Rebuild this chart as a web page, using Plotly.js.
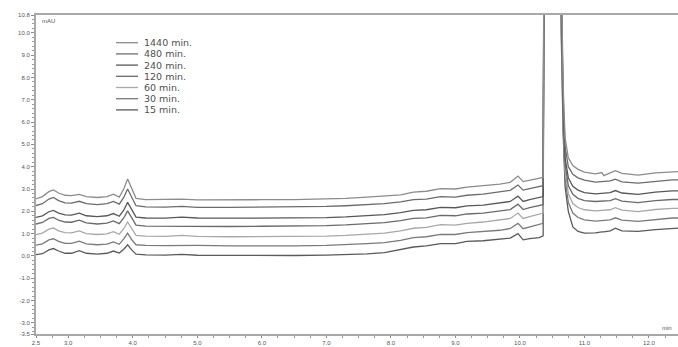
<!DOCTYPE html>
<html>
<head>
<meta charset="utf-8">
<script src="https://cdn.plot.ly/plotly-3.0.1.min.js"></script>
<style>
  html, body { margin: 0; padding: 0; background: #fff; overflow: hidden; }
  #chart { width: 678px; height: 347px; }
</style>
</head>
<body>
<div id="chart"></div>
<script>
// Retention time (min) of each sample point
const times = [
  2.50, 2.60, 2.70, 2.77, 2.85, 2.95, 3.05, 3.17, 3.28, 3.45,
  3.60, 3.70, 3.79, 3.86, 3.92, 3.98, 4.05, 4.20, 4.50, 4.76, 5.00,
  5.50, 6.00, 6.50, 7.00, 7.30, 7.63, 7.90, 8.15, 8.35, 8.55, 8.77, 9.00, 9.18, 9.43,
  9.69, 9.85, 9.97, 10.05, 10.15, 10.30, 10.36,
  10.39, 10.50, 10.60, 10.64, 10.67, 10.70, 10.75, 10.82, 10.90, 11.00,
  11.17, 11.27, 11.30, 11.40, 11.48, 11.58, 11.83, 12.10, 12.36, 12.45
];

// Absorbance (mAU) for each incubation time
const abs1440 = [
  2.56, 2.66, 2.88, 2.96, 2.82, 2.72, 2.70, 2.76, 2.66, 2.62,
  2.66, 2.77, 2.64, 3.00, 3.45, 3.05, 2.58, 2.52, 2.52, 2.55, 2.51,
  2.50, 2.52, 2.52, 2.55, 2.58, 2.64, 2.68, 2.74, 2.86, 2.90, 3.02, 3.00, 3.08, 3.14,
  3.22, 3.30, 3.58, 3.33, 3.40, 3.48, 3.52,
  32, 62, 32, 13, 7.6, 5.3, 4.4, 4.05, 3.88, 3.76,
  3.68, 3.74, 3.60, 3.74, 3.82, 3.70, 3.62, 3.72, 3.78, 3.78
];
const abs480 = [
  2.26, 2.34, 2.55, 2.62, 2.48, 2.38, 2.37, 2.45, 2.34, 2.30,
  2.34, 2.44, 2.32, 2.62, 3.00, 2.65, 2.25, 2.20, 2.19, 2.22, 2.18,
  2.18, 2.19, 2.20, 2.22, 2.25, 2.30, 2.34, 2.42, 2.52, 2.55, 2.66, 2.64, 2.72, 2.77,
  2.86, 2.94, 3.18, 2.95, 3.02, 3.10, 3.15,
  31, 61, 31, 12.5, 7.1, 4.9, 4.0, 3.66, 3.50, 3.40,
  3.31, 3.32, 3.32, 3.36, 3.44, 3.32, 3.26, 3.35, 3.41, 3.41
];
const abs240 = [
  1.73, 1.80, 1.98, 2.04, 1.92, 1.84, 1.83, 1.92, 1.80, 1.76,
  1.80, 1.90, 1.78, 2.05, 2.40, 2.08, 1.74, 1.70, 1.69, 1.74, 1.70,
  1.69, 1.70, 1.70, 1.72, 1.75, 1.80, 1.85, 1.94, 2.04, 2.07, 2.18, 2.16, 2.24, 2.28,
  2.36, 2.44, 2.68, 2.44, 2.52, 2.62, 2.66,
  30, 60, 30, 12, 6.7, 4.4, 3.5, 3.12, 2.95, 2.84,
  2.78, 2.80, 2.80, 2.84, 2.93, 2.82, 2.76, 2.86, 2.92, 2.92
];
const abs120 = [
  1.43, 1.50, 1.68, 1.73, 1.60, 1.52, 1.51, 1.60, 1.48, 1.43,
  1.47, 1.57, 1.45, 1.70, 2.02, 1.72, 1.38, 1.34, 1.33, 1.35, 1.33,
  1.32, 1.33, 1.34, 1.36, 1.39, 1.44, 1.49, 1.58, 1.68, 1.71, 1.82, 1.80, 1.88, 1.92,
  2.00, 2.08, 2.32, 2.08, 2.16, 2.26, 2.30,
  30, 59, 30, 11.5, 6.4, 4.1, 3.15, 2.76, 2.58, 2.48,
  2.44, 2.45, 2.45, 2.48, 2.57, 2.46, 2.39, 2.48, 2.53, 2.53
];
const abs60 = [
  0.95, 1.02, 1.20, 1.25, 1.12, 1.04, 1.03, 1.12, 1.00, 0.96,
  0.99, 1.09, 0.97, 1.22, 1.52, 1.22, 0.92, 0.89, 0.88, 0.92, 0.88,
  0.86, 0.86, 0.87, 0.89, 0.92, 0.97, 1.02, 1.12, 1.24, 1.28, 1.40, 1.38, 1.46, 1.52,
  1.60, 1.68, 1.92, 1.68, 1.76, 1.88, 1.92,
  29, 58, 29, 11, 6.1, 3.8, 2.8, 2.35, 2.17, 2.07,
  2.02, 2.04, 2.04, 2.07, 2.16, 2.05, 1.99, 2.08, 2.13, 2.13
];
const abs30 = [
  0.48, 0.54, 0.72, 0.77, 0.65, 0.56, 0.56, 0.66, 0.54, 0.50,
  0.53, 0.63, 0.52, 0.76, 1.02, 0.74, 0.50, 0.47, 0.46, 0.48, 0.47,
  0.45, 0.44, 0.45, 0.47, 0.50, 0.55, 0.60, 0.70, 0.82, 0.86, 0.97, 0.96, 1.04, 1.08,
  1.15, 1.23, 1.46, 1.22, 1.30, 1.42, 1.46,
  29, 57, 29, 10.5, 5.8, 3.5, 2.4, 1.92, 1.72, 1.62,
  1.56, 1.58, 1.58, 1.62, 1.71, 1.60, 1.55, 1.64, 1.70, 1.70
];
const abs15 = [
  0.06, 0.10, 0.27, 0.33, 0.22, 0.12, 0.12, 0.24, 0.12, 0.08,
  0.12, 0.22, 0.13, 0.30, 0.50, 0.28, 0.08, 0.05, 0.04, 0.07, 0.03,
  0.02, 0.01, 0.02, 0.04, 0.05, 0.09, 0.15, 0.28, 0.40, 0.45, 0.55, 0.55, 0.65, 0.68,
  0.74, 0.80, 1.00, 0.72, 0.78, 0.82, 0.90,
  28, 56, 28, 10, 5.5, 3.1, 2.0, 1.30, 1.10, 1.02,
  1.03, 1.08, 1.08, 1.12, 1.24, 1.12, 1.10, 1.18, 1.25, 1.25
];

const seriesNames = ['1440 min.', '480 min.', '240 min.', '120 min.', '60 min.', '30 min.', '15 min.'];
const seriesData = [abs1440, abs480, abs240, abs120, abs60, abs30, abs15];
const seriesColors = ['#8c8c8c', '#6c6c6c', '#585858', '#6a6a6a', '#a8a8a8', '#7a7a7a', '#5a5a5a'];

const yTickVals = [-3.5, -3, -2, -1, 0, 1, 2, 3, 4, 5, 6, 7, 8, 9, 10, 10.8];
const xTickVals = [2.5, 3, 4, 5, 6, 7, 8, 9, 10, 11, 12];

// Page geometry
const W = 678, H = 347;
const M = { l: 36, r: 0, t: 15, b: 13 };
const pxToPaperX = px => (px - M.l) / (W - M.l - M.r);
const pxToPaperY = py => (H - M.b - py) / (H - M.t - M.b);

const traces = seriesData.map((vals, i) => ({
  type: 'scatter',
  mode: 'lines',
  x: times,
  y: vals,
  name: seriesNames[i],
  line: { color: seriesColors[i], width: 1.3 },
  hoverinfo: 'skip',
  showlegend: false
})).reverse();

// Key in the upper-left corner: a short line sample and a label per series
const rowPitch = 11.2;
const firstRow = 42.7;
const shapes = [];
const annotations = [];
seriesNames.forEach((name, i) => {
  const rowY = firstRow + i * rowPitch;
  shapes.push({
    type: 'line', xref: 'paper', yref: 'paper',
    x0: pxToPaperX(116), x1: pxToPaperX(138),
    y0: pxToPaperY(rowY), y1: pxToPaperY(rowY),
    line: { color: seriesColors[i], width: 1.3 }
  });
  annotations.push({
    xref: 'paper', yref: 'paper',
    x: pxToPaperX(143), y: pxToPaperY(rowY),
    xanchor: 'left', yanchor: 'middle',
    borderpad: 0,
    text: name, showarrow: false,
    font: { family: 'DejaVu Sans, sans-serif', size: 9.5, color: '#505050' }
  });
});

// Unit captions
annotations.push({
  xref: 'paper', yref: 'paper',
  x: pxToPaperX(40), y: pxToPaperY(21),
  xanchor: 'left', yanchor: 'middle',
  text: 'mAU', showarrow: false,
  font: { family: 'Liberation Sans, sans-serif', size: 6, color: '#555' }
});
annotations.push({
  xref: 'paper', yref: 'paper',
  x: pxToPaperX(667), y: pxToPaperY(328),
  xanchor: 'center', yanchor: 'middle',
  text: 'min', showarrow: false,
  font: { family: 'Liberation Sans, sans-serif', size: 6, color: '#555' }
});

const tickFont = { family: 'Liberation Sans, sans-serif', size: 6, color: '#555' };

const layout = {
  width: W, height: H,
  margin: { l: M.l, r: M.r, t: M.t, b: M.b, pad: 0 },
  paper_bgcolor: '#fff',
  plot_bgcolor: '#fff',
  showlegend: false,
  xaxis: {
    range: [2.5, 12.45],
    tickmode: 'array',
    tickvals: xTickVals,
    ticktext: xTickVals.map(v => v.toFixed(1)),
    ticks: 'outside', ticklen: 2, tickcolor: '#8a8a8a', tickwidth: 1,
    tickfont: tickFont,
    showline: true, linewidth: 2, linecolor: '#a8a8a8', mirror: true,
    showgrid: false, zeroline: false,
    minor: { tickmode: 'linear', tick0: 2.5, dtick: 0.25, ticks: 'outside', ticklen: 2, tickcolor: '#9a9a9a', showgrid: false }
  },
  yaxis: {
    range: [-3.5, 10.8],
    tickmode: 'array',
    tickvals: yTickVals,
    ticktext: yTickVals.map(v => v.toFixed(1)),
    ticks: 'outside', ticklen: 3, tickcolor: '#8a8a8a', tickwidth: 1,
    tickfont: tickFont,
    showline: true, linewidth: 2, linecolor: '#a8a8a8',
    showgrid: false, zeroline: false,
    minor: { tickmode: 'linear', tick0: 0, dtick: 0.2, ticks: 'outside', ticklen: 2, tickcolor: '#9a9a9a', showgrid: false }
  },
  shapes: shapes,
  annotations: annotations
};

Plotly.newPlot('chart', traces, layout, { staticPlot: true, displayModeBar: false });
</script>
</body>
</html>
